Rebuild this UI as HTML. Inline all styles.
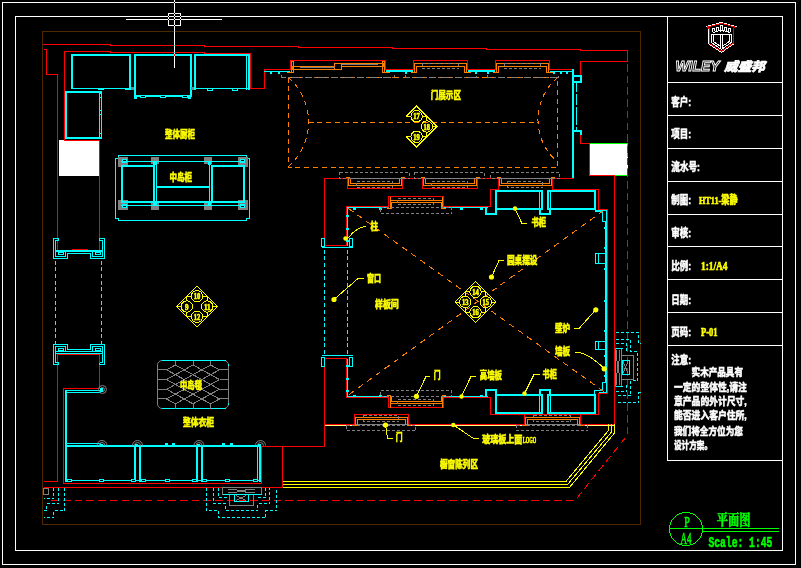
<!DOCTYPE html>
<html><head><meta charset="utf-8"><title>平面图</title>
<style>
html,body{margin:0;padding:0;background:#000;overflow:hidden}
svg{display:block}
text{font-family:"Liberation Sans","Noto Sans CJK SC",sans-serif}
.ser{font-family:"Liberation Serif","Noto Serif CJK SC",serif}
.mix{font-family:"Liberation Serif","Noto Sans CJK SC",sans-serif}
.mono{font-family:"Liberation Mono","Noto Sans CJK SC",monospace}
</style></head><body>
<svg width="801" height="568" viewBox="0 0 801 568" shape-rendering="crispEdges">
<rect x="0" y="0" width="801" height="568" fill="#000"/>
<defs><filter id="nf" x="0" y="0" width="801" height="568" filterUnits="userSpaceOnUse"><feOffset dx="0" dy="0"/></filter></defs>
<g filter="url(#nf)">
<rect x="2.5" y="2.5" width="793" height="562" stroke="#fff" stroke-width="1" fill="none"/>
<rect x="15.5" y="16.5" width="767" height="534" stroke="#fff" stroke-width="1" fill="none"/>
<path d="M667.5 16.5 L667.5 460.5" stroke="#fff" stroke-width="1" fill="none" />
<path d="M667.5 82.5 L782.5 82.5" stroke="#fff" stroke-width="1" fill="none" />
<path d="M667.5 115.5 L782.5 115.5" stroke="#fff" stroke-width="1" fill="none" />
<path d="M667.5 148.5 L782.5 148.5" stroke="#fff" stroke-width="1" fill="none" />
<path d="M667.5 181.5 L782.5 181.5" stroke="#fff" stroke-width="1" fill="none" />
<path d="M667.5 214.5 L782.5 214.5" stroke="#fff" stroke-width="1" fill="none" />
<path d="M667.5 246.5 L782.5 246.5" stroke="#fff" stroke-width="1" fill="none" />
<path d="M667.5 279.5 L782.5 279.5" stroke="#fff" stroke-width="1" fill="none" />
<path d="M667.5 312.5 L782.5 312.5" stroke="#fff" stroke-width="1" fill="none" />
<path d="M667.5 345.5 L782.5 345.5" stroke="#fff" stroke-width="1" fill="none" />
<path d="M667.5 460.5 L782.5 460.5" stroke="#fff" stroke-width="1" fill="none" />
<rect x="42.5" y="31.5" width="598" height="493" stroke="#4f2800" stroke-width="1" fill="none"/>
<path d="M42.5 44.5 L110.5 44.5 L110.5 45.5 L204.5 45.5 L204.5 46.5 L298.5 46.5 L298.5 47.5 L392.5 47.5 L392.5 48.5 L486.5 48.5 L486.5 49.5 L580.5 49.5 L580.5 50.5 L627.5 50.5 L627.5 50.5 L627.5 61.5 L580.5 61.5 L580.5 78.5" stroke="#f00" stroke-width="1" fill="none" />
<path d="M64.5 140.5 L64.5 51.5 L110.5 51.5 L110.5 52.5 L204.5 52.5 L204.5 53.5 L250.5 53.5 L250.5 88.5 L264.5 88.5 L264.5 69.5 L290.5 69.5 L290.5 60.5 L385.5 60.5 L385.5 69.5 L413.5 69.5 L413.5 60.5 L467.5 60.5 L467.5 69.5 L495.5 69.5 L495.5 60.5 L549.5 60.5 L549.5 69.5 L572.5 69.5" stroke="#f00" stroke-width="1" fill="none" />
<path d="M43.5 49.5 L46.5 49.5 L46.5 74.5 L57.5 74.5 L57.5 249.5" stroke="#f00" stroke-width="1" fill="none" />
<path d="M64.5 140.5 L99.5 140.5 L99.5 249.5" stroke="#f00" stroke-width="1" fill="none" />
<path d="M71.5 249.5 L87.5 249.5" stroke="#f00" stroke-width="1" fill="none" />
<path d="M43.5 481.5 L57.5 481.5 L57.5 354.5 L99.5 354.5 L99.5 388.5 L63.5 388.5 L63.5 483.5 L261.5 483.5 L261.5 446.5 L324.5 446.5 L324.5 358.5 L346.5 358.5 L346.5 397.5 L388.5 397.5 L388.5 407.5 L443.5 407.5 L443.5 397.5 L490.5 397.5 L490.5 414.5 L598.5 414.5 L598.5 393.5 L607.5 393.5 L607.5 209.5 L598.5 209.5 L598.5 189.5 L552.5 189.5 L552.5 178.5 L573.5 178.5" stroke="#f00" stroke-width="1" fill="none" />
<path d="M43.5 487.5 L282.5 487.5 L282.5 446.5" stroke="#f00" stroke-width="1" fill="none" />
<path d="M324.5 178.5 L347.5 178.5 L347.5 188.5 L402.5 188.5 L402.5 178.5 L422.5 178.5 L422.5 188.5 L477.5 188.5 L477.5 178.5 L498.5 178.5 L498.5 189.5 L490.5 189.5 L490.5 206.5 L443.5 206.5 L443.5 196.5 L388.5 196.5 L388.5 206.5 L346.5 206.5 L346.5 245.5 L324.5 245.5 Z" stroke="#f00" stroke-width="1" fill="none" />
<path d="M324.5 425.5 L354.5 425.5" stroke="#ffff80" stroke-width="1" fill="none" />
<path d="M408.5 425.5 L524.5 425.5" stroke="#ffff80" stroke-width="1" fill="none" />
<path d="M580.5 425.5 L614.5 425.5" stroke="#ffff80" stroke-width="1" fill="none" />
<path d="M324.5 424.5 L354.5 424.5 L354.5 414.5 L408.5 414.5 L408.5 424.5 L524.5 424.5 L524.5 414.5" stroke="#f00" stroke-width="1" fill="none" />
<path d="M580.5 414.5 L580.5 424.5 L614.5 424.5 L614.5 175.5" stroke="#f00" stroke-width="1" fill="none" />
<path d="M580.5 134.5 L580.5 143.5 L589.5 143.5" stroke="#f00" stroke-width="1" fill="none" />
<rect x="59" y="140" width="40" height="36" fill="#fff"/>
<rect x="590" y="143" width="38" height="33" fill="#fff"/>
<rect x="64" y="140" width="36" height="1" fill="#f00"/>
<rect x="99" y="140" width="1" height="36" fill="#f00"/>
<path d="M589.5 143.5 L589.5 175.5 L614.5 175.5" stroke="#f00" stroke-width="1" fill="none" />
<path d="M589.5 143.5 L627.5 143.5" stroke="#0f0" stroke-width="1" fill="none" />
<path d="M627.5 143.5 L627.5 175.5" stroke="#0f0" stroke-width="1" fill="none" stroke-dasharray="5 3" />
<path d="M614.5 175.5 L627.5 175.5" stroke="#0f0" stroke-width="1" fill="none" />
<rect x="174" y="0" width="1" height="68" fill="#fff"/>
<rect x="126" y="19" width="96" height="1" fill="#fff"/>
<rect x="168.5" y="13.5" width="12" height="12" stroke="#fff" stroke-width="1" fill="none"/>
<rect x="174" y="2" width="1" height="1" fill="#000"/>
<rect x="174" y="13" width="1" height="1" fill="#000"/>
<rect x="168" y="16" width="1" height="1" fill="#000"/>
<rect x="174" y="16" width="1" height="1" fill="#000"/>
<rect x="180" y="16" width="1" height="1" fill="#000"/>
<rect x="168" y="19" width="1" height="1" fill="#000"/>
<rect x="174" y="19" width="1" height="1" fill="#000"/>
<rect x="180" y="19" width="1" height="1" fill="#000"/>
<rect x="174" y="25" width="1" height="1" fill="#000"/>
<rect x="174" y="31" width="1" height="1" fill="#b0d7ff"/>
<rect x="174" y="45" width="1" height="1" fill="#0ff"/>
<rect x="174" y="52" width="1" height="1" fill="#0ff"/>
<path d="M627.5 64 L627.5 435 L575 500.5 L47.5 500.5" stroke="#f00" stroke-width="1" fill="none" stroke-dasharray="7.5 4.2" />
<rect x="71" y="54" width="2" height="35" fill="#0ff"/>
<rect x="71" y="54" width="60" height="2" fill="#0ff"/>
<rect x="129" y="54" width="2" height="35" fill="#0ff"/>
<rect x="71" y="88" width="60" height="1" fill="#0ff"/>
<rect x="134" y="54" width="2" height="43" fill="#0ff"/>
<rect x="134" y="54" width="58" height="2" fill="#0ff"/>
<rect x="190" y="54" width="2" height="43" fill="#0ff"/>
<rect x="134" y="95" width="58" height="1" fill="#0ff"/>
<rect x="136" y="96" width="54" height="1" fill="#0ff"/>
<rect x="194" y="54" width="2" height="36" fill="#0ff"/>
<rect x="194" y="54" width="56" height="2" fill="#0ff"/>
<rect x="246" y="54" width="1" height="36" fill="#0ff"/>
<rect x="248" y="54" width="2" height="36" fill="#0ff"/>
<rect x="194" y="88" width="56" height="1" fill="#0ff"/>
<rect x="65" y="91" width="2" height="48" fill="#0ff"/>
<rect x="65" y="91" width="36" height="2" fill="#0ff"/>
<rect x="65" y="137" width="36" height="2" fill="#0ff"/>
<rect x="99" y="91" width="1" height="48" fill="#0ff"/>
<rect x="101" y="91" width="1" height="48" fill="#0ff"/>
<rect x="99" y="93" width="3" height="5" fill="#0ff"/>
<rect x="100" y="94" width="1" height="3" fill="#000"/>
<rect x="99" y="110" width="3" height="5" fill="#0ff"/>
<rect x="100" y="111" width="1" height="3" fill="#000"/>
<rect x="99" y="133" width="3" height="5" fill="#0ff"/>
<rect x="100" y="134" width="1" height="3" fill="#000"/>
<rect x="98" y="88" width="6" height="2" fill="#0ff"/>
<rect x="125" y="88" width="6" height="2" fill="#0ff"/>
<rect x="160" y="95" width="6" height="3" fill="#0ff"/>
<rect x="161" y="96" width="4" height="1" fill="#000"/>
<rect x="140" y="95" width="6" height="3" fill="#0ff"/>
<rect x="141" y="96" width="4" height="1" fill="#000"/>
<rect x="182" y="95" width="6" height="3" fill="#0ff"/>
<rect x="183" y="96" width="4" height="1" fill="#000"/>
<rect x="207" y="88" width="6" height="3" fill="#0ff"/>
<rect x="208" y="89" width="4" height="1" fill="#000"/>
<rect x="232" y="88" width="6" height="3" fill="#0ff"/>
<rect x="233" y="89" width="4" height="1" fill="#000"/>
<rect x="131" y="87" width="3" height="3" fill="#808080"/>
<rect x="191" y="87" width="3" height="3" fill="#808080"/>
<rect x="134" y="96" width="3" height="3" fill="#0ff"/>
<rect x="188" y="96" width="3" height="3" fill="#0ff"/>
<path d="M115.5 158.5 L118.5 158.5 L118.5 155.5 L246.5 155.5 L246.5 158.5 L249.5 158.5 L249.5 218.5 L246.5 218.5 L246.5 220.5 L118.5 220.5 L118.5 218.5 L115.5 218.5 Z" stroke="#0ff" stroke-width="1" fill="none" />
<rect x="151" y="157" width="8" height="7" fill="#808080"/>
<rect x="151" y="203" width="8" height="7" fill="#808080"/>
<rect x="204" y="157" width="8" height="7" fill="#808080"/>
<rect x="204" y="203" width="8" height="7" fill="#808080"/>
<rect x="118" y="157" width="10" height="10" fill="#808080"/>
<rect x="118" y="200" width="10" height="10" fill="#808080"/>
<rect x="238" y="157" width="10" height="10" fill="#808080"/>
<rect x="238" y="200" width="10" height="10" fill="#808080"/>
<rect x="122" y="159" width="5" height="4" fill="#0ff"/>
<rect x="123" y="160" width="3" height="2" fill="#000"/>
<rect x="240" y="159" width="5" height="4" fill="#0ff"/>
<rect x="241" y="160" width="3" height="2" fill="#000"/>
<rect x="122" y="204" width="5" height="4" fill="#0ff"/>
<rect x="123" y="205" width="3" height="2" fill="#000"/>
<rect x="240" y="204" width="5" height="4" fill="#0ff"/>
<rect x="241" y="205" width="3" height="2" fill="#000"/>
<rect x="121" y="161" width="124" height="1" fill="#0ff"/>
<rect x="122" y="166" width="32" height="36" stroke="#0ff" stroke-width="2" fill="none"/>
<rect x="212" y="166" width="32" height="36" stroke="#0ff" stroke-width="2" fill="none"/>
<rect x="156" y="161" width="1" height="44" fill="#0ff"/>
<rect x="209" y="161" width="1" height="44" fill="#0ff"/>
<rect x="155" y="201" width="56" height="2" fill="#0ff"/>
<rect x="157" y="186" width="52" height="2" fill="#0ff"/>
<rect x="121" y="205" width="124" height="1" fill="#0ff"/>
<rect x="153" y="162" width="3" height="3" fill="#0ff"/>
<rect x="153" y="203" width="3" height="3" fill="#0ff"/>
<rect x="208" y="162" width="3" height="3" fill="#0ff"/>
<rect x="208" y="203" width="3" height="3" fill="#0ff"/>
<path d="M58.5 240.5 L58.5 238.5 L53.5 238.5 L53.5 258.5 L67.5 258.5 L67.5 253.5 L90.5 253.5 L90.5 258.5 L104.5 258.5 L104.5 238.5 L99.5 238.5 L99.5 240.5" stroke="#0ff" stroke-width="1" fill="none" />
<path d="M58.5 240.5 L55.5 240.5 L55.5 250.5 L102.5 250.5 L102.5 240.5 L99.5 240.5" stroke="#0ff" stroke-width="1" fill="none" />
<path d="M55.5 251.5 L102.5 251.5" stroke="#0ff" stroke-width="1" fill="none" />
<path d="M55.5 250.5 L55.5 256.5 L65.5 256.5 L65.5 251.5" stroke="#0ff" stroke-width="1" fill="none" />
<path d="M102.5 250.5 L102.5 256.5 L92.5 256.5 L92.5 251.5" stroke="#0ff" stroke-width="1" fill="none" />
<path d="M58.5 252.5 L63.5 252.5 L63.5 254.5 L58.5 254.5 Z" stroke="#0ff" stroke-width="1" fill="none" />
<path d="M95.5 252.5 L100.5 252.5 L100.5 254.5 L95.5 254.5 Z" stroke="#0ff" stroke-width="1" fill="none" />
<path d="M58.5 362.5 L58.5 364.5 L53.5 364.5 L53.5 344.5 L67.5 344.5 L67.5 349.5 L90.5 349.5 L90.5 344.5 L104.5 344.5 L104.5 364.5 L99.5 364.5 L99.5 362.5" stroke="#0ff" stroke-width="1" fill="none" />
<path d="M58.5 362.5 L55.5 362.5 L55.5 353.5 L102.5 353.5 L102.5 362.5 L99.5 362.5" stroke="#0ff" stroke-width="1" fill="none" />
<path d="M55.5 351.5 L102.5 351.5" stroke="#0ff" stroke-width="1" fill="none" />
<path d="M55.5 353.5 L55.5 346.5 L65.5 346.5 L65.5 351.5" stroke="#0ff" stroke-width="1" fill="none" />
<path d="M102.5 353.5 L102.5 346.5 L92.5 346.5 L92.5 351.5" stroke="#0ff" stroke-width="1" fill="none" />
<path d="M58.5 350.5 L63.5 350.5 L63.5 348.5 L58.5 348.5 Z" stroke="#0ff" stroke-width="1" fill="none" />
<path d="M95.5 350.5 L100.5 350.5 L100.5 348.5 L95.5 348.5 Z" stroke="#0ff" stroke-width="1" fill="none" />
<path d="M55.5 260.5 L55.5 343.5" stroke="#0ff" stroke-width="1" fill="none" stroke-dasharray="4 2.7" />
<path d="M101.5 260.5 L101.5 343.5" stroke="#0ff" stroke-width="1" fill="none" stroke-dasharray="4 2.7" />
<rect x="321.5" y="238.5" width="3" height="8" stroke="#0ff" stroke-width="1" fill="none"/>
<rect x="349.5" y="238.5" width="3" height="8" stroke="#0ff" stroke-width="1" fill="none"/>
<path d="M321.5 247.5 L352.5 247.5" stroke="#0ff" stroke-width="1" fill="none" />
<rect x="321.5" y="357.5" width="3" height="9" stroke="#0ff" stroke-width="1" fill="none"/>
<rect x="349.5" y="357.5" width="3" height="9" stroke="#0ff" stroke-width="1" fill="none"/>
<path d="M321.5 355.5 L352.5 355.5" stroke="#0ff" stroke-width="1" fill="none" />
<path d="M324.5 249.5 L324.5 354.5" stroke="#0ff" stroke-width="1" fill="none" stroke-dasharray="4 2.7" />
<path d="M347.5 249.5 L347.5 354.5" stroke="#0ff" stroke-width="1" fill="none" stroke-dasharray="4 2.7" />
<path d="M347.5 245.5 L347.5 207.5 L388.5 207.5" stroke="#0ff" stroke-width="1" fill="none" />
<path d="M347.5 358.5 L347.5 396.5 L388.5 396.5" stroke="#0ff" stroke-width="1" fill="none" />
<path d="M443.5 207.5 L487.5 207.5" stroke="#0ff" stroke-width="1" fill="none" />
<path d="M443.5 396.5 L487.5 396.5" stroke="#0ff" stroke-width="1" fill="none" />
<rect x="353" y="208" width="3" height="2" fill="#0ff"/>
<rect x="379" y="208" width="3" height="2" fill="#0ff"/>
<rect x="460" y="208" width="3" height="2" fill="#0ff"/>
<rect x="480" y="208" width="3" height="2" fill="#0ff"/>
<rect x="353" y="395" width="3" height="2" fill="#0ff"/>
<rect x="379" y="395" width="3" height="2" fill="#0ff"/>
<rect x="460" y="395" width="3" height="2" fill="#0ff"/>
<rect x="480" y="395" width="3" height="2" fill="#0ff"/>
<rect x="346" y="215" width="3" height="2" fill="#0ff"/>
<rect x="346" y="228" width="3" height="2" fill="#0ff"/>
<rect x="346" y="240" width="3" height="2" fill="#0ff"/>
<rect x="346" y="365" width="3" height="2" fill="#0ff"/>
<rect x="346" y="378" width="3" height="2" fill="#0ff"/>
<rect x="346" y="390" width="3" height="2" fill="#0ff"/>
<rect x="496" y="191" width="46" height="18" stroke="#0ff" stroke-width="2" fill="none"/>
<rect x="548" y="191" width="47" height="18" stroke="#0ff" stroke-width="2" fill="none"/>
<rect x="539" y="190" width="1" height="20" fill="#0ff"/>
<rect x="550" y="190" width="1" height="20" fill="#0ff"/>
<path d="M486 208 L486 214 L496 214 L496 208" stroke="#0ff" stroke-width="2" fill="none" />
<path d="M540 208 L540 214 L550 214 L550 208" stroke="#0ff" stroke-width="2" fill="none" />
<rect x="496" y="395" width="46" height="18" stroke="#0ff" stroke-width="2" fill="none"/>
<rect x="548" y="395" width="47" height="18" stroke="#0ff" stroke-width="2" fill="none"/>
<rect x="539" y="394" width="1" height="20" fill="#0ff"/>
<rect x="550" y="394" width="1" height="20" fill="#0ff"/>
<path d="M486 396 L486 390 L496 390 L496 396" stroke="#0ff" stroke-width="2" fill="none" />
<path d="M540 396 L540 390 L550 390 L550 396" stroke="#0ff" stroke-width="2" fill="none" />
<rect x="572" y="69" width="2" height="109" fill="#0ff"/>
<path d="M572.5 75.5 L581.5 75.5 L581.5 82.5 L574.5 82.5" stroke="#0ff" stroke-width="1" fill="none" />
<rect x="572" y="75" width="10" height="2" fill="#0ff"/>
<rect x="580" y="75" width="2" height="8" fill="#0ff"/>
<rect x="574" y="81" width="8" height="2" fill="#0ff"/>
<rect x="576" y="83" width="1" height="47" fill="#0ff"/>
<rect x="572" y="130" width="10" height="2" fill="#0ff"/>
<rect x="580" y="130" width="2" height="5" fill="#0ff"/>
<rect x="550" y="71" width="22" height="1" fill="#0ff"/>
<rect x="553" y="72" width="2" height="2" fill="#0ff"/>
<rect x="560" y="72" width="2" height="2" fill="#0ff"/>
<rect x="566" y="72" width="2" height="2" fill="#0ff"/>
<rect x="574" y="92" width="3" height="2" fill="#000"/>
<rect x="574" y="105" width="3" height="2" fill="#000"/>
<rect x="574" y="125" width="3" height="2" fill="#000"/>
<rect x="264" y="71" width="26" height="1" fill="#0ff"/>
<rect x="386" y="70" width="27" height="2" fill="#0ff"/>
<rect x="468" y="70" width="27" height="2" fill="#0ff"/>
<rect x="270" y="72" width="2" height="2" fill="#0ff"/>
<rect x="278" y="72" width="2" height="2" fill="#0ff"/>
<rect x="405" y="72" width="2" height="2" fill="#0ff"/>
<rect x="475" y="72" width="2" height="2" fill="#0ff"/>
<rect x="487" y="72" width="2" height="2" fill="#0ff"/>
<path d="M594.5 211.5 L602.5 211.5 L602.5 221.5 L605.5 221.5 L605.5 382.5 L602.5 382.5 L602.5 390.5 L594.5 390.5 L594.5 394.5" stroke="#0ff" stroke-width="1" fill="none" />
<path d="M594.5 210.5 L606.5 210.5 L606.5 392.5 L598.5 392.5" stroke="#0ff" stroke-width="1" fill="none" />
<rect x="604" y="227" width="1" height="2" fill="#0ff"/>
<rect x="604" y="247" width="1" height="2" fill="#0ff"/>
<rect x="604" y="268" width="1" height="2" fill="#0ff"/>
<rect x="604" y="300" width="1" height="2" fill="#0ff"/>
<rect x="604" y="330" width="1" height="2" fill="#0ff"/>
<rect x="604" y="355" width="1" height="2" fill="#0ff"/>
<rect x="604" y="375" width="1" height="2" fill="#0ff"/>
<rect x="595.5" y="253.5" width="11" height="10" stroke="#0ff" stroke-width="1" fill="none"/>
<rect x="598" y="253" width="1" height="10" fill="#0ff"/>
<rect x="595.5" y="341.5" width="11" height="8" stroke="#0ff" stroke-width="1" fill="none"/>
<rect x="598" y="341" width="1" height="8" fill="#0ff"/>
<rect x="174" y="54" width="1" height="2" fill="#f00"/>
<rect x="65" y="390" width="2" height="92" fill="#0ff"/>
<rect x="65" y="390" width="36" height="1" fill="#0ff"/>
<rect x="67" y="392" width="34" height="1" fill="#0ff"/>
<rect x="65" y="443" width="36" height="1" fill="#0ff"/>
<rect x="65" y="445" width="36" height="2" fill="#0ff"/>
<rect x="101" y="445" width="160" height="2" fill="#0ff"/>
<rect x="65" y="480" width="196" height="1" fill="#0ff"/>
<rect x="134" y="445" width="2" height="37" fill="#0ff"/>
<rect x="139" y="445" width="2" height="37" fill="#0ff"/>
<rect x="196" y="445" width="2" height="37" fill="#0ff"/>
<rect x="201" y="445" width="2" height="37" fill="#0ff"/>
<rect x="257" y="445" width="1" height="37" fill="#0ff"/>
<rect x="259" y="445" width="2" height="37" fill="#0ff"/>
<rect x="67" y="479" width="5" height="3" fill="#0ff"/>
<rect x="68" y="480" width="3" height="1" fill="#000"/>
<rect x="99" y="479" width="5" height="3" fill="#0ff"/>
<rect x="100" y="480" width="3" height="1" fill="#000"/>
<rect x="131" y="479" width="5" height="3" fill="#0ff"/>
<rect x="132" y="480" width="3" height="1" fill="#000"/>
<rect x="141" y="479" width="5" height="3" fill="#0ff"/>
<rect x="142" y="480" width="3" height="1" fill="#000"/>
<rect x="165" y="479" width="5" height="3" fill="#0ff"/>
<rect x="166" y="480" width="3" height="1" fill="#000"/>
<rect x="192" y="479" width="5" height="3" fill="#0ff"/>
<rect x="193" y="480" width="3" height="1" fill="#000"/>
<rect x="202" y="479" width="5" height="3" fill="#0ff"/>
<rect x="203" y="480" width="3" height="1" fill="#000"/>
<rect x="225" y="479" width="5" height="3" fill="#0ff"/>
<rect x="226" y="480" width="3" height="1" fill="#000"/>
<rect x="253" y="479" width="5" height="3" fill="#0ff"/>
<rect x="254" y="480" width="3" height="1" fill="#000"/>
<g shape-rendering="auto" fill="none" stroke="#808080">
<path d="M97 445.5 a5 5 0 0 1 10 0" />
<path d="M99 445.5 a3 3 0 0 1 6 0" />
<path d="M132.5 445.5 a5 5 0 0 1 10 0" />
<path d="M134.5 445.5 a3 3 0 0 1 6 0" />
<path d="M194 445.5 a5 5 0 0 1 10 0" />
<path d="M196 445.5 a3 3 0 0 1 6 0" />
<path d="M255.5 445.5 a5 5 0 0 1 10 0" />
<path d="M257.5 445.5 a3 3 0 0 1 6 0" />
<circle cx="102.5" cy="389.5" r="4"/><circle cx="102.5" cy="389.5" r="2"/>
</g>
<rect x="100" y="444" width="3" height="3" fill="#0ff"/>
<rect x="135" y="444" width="3" height="3" fill="#0ff"/>
<rect x="197" y="444" width="3" height="3" fill="#0ff"/>
<rect x="258" y="444" width="3" height="3" fill="#0ff"/>
<rect x="100" y="388" width="3" height="4" fill="#0ff"/>
<rect x="165" y="443" width="3" height="2" fill="#0ff"/>
<rect x="172" y="443" width="3" height="2" fill="#0ff"/>
<rect x="222" y="443" width="3" height="2" fill="#0ff"/>
<rect x="230" y="443" width="3" height="2" fill="#0ff"/>
<rect x="43.5" y="488.5" width="5" height="6" stroke="#808080" stroke-width="1" fill="none"/>
<path d="M53.5 487.5 L53.5 498.5 L43.5 498.5" stroke="#0ff" stroke-width="1" fill="none" stroke-dasharray="3 2" />
<path d="M58.5 487.5 L58.5 503.5 L46.5 503.5 L46.5 510.5 L43.5 510.5" stroke="#0ff" stroke-width="1" fill="none" stroke-dasharray="3 2" />
<path d="M64.5 487.5 L64.5 510.5 L53.5 510.5 L53.5 517.5 L43.5 517.5" stroke="#0ff" stroke-width="1" fill="none" stroke-dasharray="3 2" />
<path d="M206.5 487.5 L206.5 510.5 L218.5 510.5 L218.5 517.5 L265.5 517.5 L265.5 510.5 L276.5 510.5 L276.5 487.5" stroke="#0ff" stroke-width="1" fill="none" stroke-dasharray="3 2" />
<path d="M213.5 487.5 L213.5 503.5 L225.5 503.5 L225.5 510.5 L257.5 510.5 L257.5 503.5 L269.5 503.5 L269.5 487.5" stroke="#0ff" stroke-width="1" fill="none" stroke-dasharray="3 2" />
<path d="M218.5 487.5 L218.5 497.5 L228.5 497.5" stroke="#0ff" stroke-width="1" fill="none" stroke-dasharray="3 2" />
<path d="M265.5 487.5 L265.5 497.5 L255.5 497.5" stroke="#0ff" stroke-width="1" fill="none" stroke-dasharray="3 2" />
<rect x="222.5" y="487.5" width="39" height="7" stroke="#808080" stroke-width="1" fill="none"/>
<path d="M222.5 494.5 L261.5 494.5" stroke="#0ff" stroke-width="1" fill="none" />
<path d="M229.5 494.5 L229.5 505.5 L253.5 505.5 L253.5 494.5" stroke="#808080" stroke-width="1" fill="none" />
<rect x="234.5" y="494.5" width="14" height="7" stroke="#0ff" stroke-width="1" fill="none"/>
<path d="M236 495.5 L246 500.5" stroke="#808080" stroke-width="1" fill="none" />
<path d="M246 495.5 L236 500.5" stroke="#808080" stroke-width="1" fill="none" />
<path d="M228 489.5 L236 489.5 L241 491.5 L247 489.5 L255 489.5" stroke="#808080" stroke-width="1" fill="none" />
<path d="M228 492.5 L236 492.5 L241 490.5 L247 492.5 L255 492.5" stroke="#808080" stroke-width="1" fill="none" />
<path d="M615.5 332.5 L638.5 332.5 L638.5 343.5 L640.5 343.5" stroke="#0ff" stroke-width="1" fill="none" stroke-dasharray="3 2" />
<path d="M640.5 392.5 L638.5 392.5 L638.5 402.5 L615.5 402.5" stroke="#0ff" stroke-width="1" fill="none" stroke-dasharray="3 2" />
<path d="M615.5 339.5 L630.5 339.5 L630.5 351.5 L637.5 351.5 L637.5 380.5 L630.5 380.5 L630.5 395.5 L615.5 395.5" stroke="#0ff" stroke-width="1" fill="none" stroke-dasharray="3 2" />
<path d="M615.5 343.5 L626.5 343.5 L626.5 351.5" stroke="#0ff" stroke-width="1" fill="none" stroke-dasharray="3 2" />
<path d="M626.5 384.5 L626.5 391.5 L615.5 391.5" stroke="#0ff" stroke-width="1" fill="none" stroke-dasharray="3 2" />
<rect x="615.5" y="348.5" width="6" height="38" stroke="#808080" stroke-width="1" fill="none"/>
<path d="M615.5 348.5 L622.5 348.5" stroke="#0ff" stroke-width="1" fill="none" />
<path d="M615.5 386.5 L622.5 386.5" stroke="#0ff" stroke-width="1" fill="none" />
<path d="M621.5 355.5 L633.5 355.5 L633.5 379.5 L621.5 379.5" stroke="#808080" stroke-width="1" fill="none" />
<rect x="622.5" y="360.5" width="7" height="14" stroke="#0ff" stroke-width="1" fill="none"/>
<path d="M623 361.5 L628 373" stroke="#808080" stroke-width="1" fill="none" />
<path d="M628 361.5 L623 373" stroke="#808080" stroke-width="1" fill="none" />
<path d="M616.5 350 L616.5 358 L618 367 L616.5 376 L616.5 385" stroke="#808080" stroke-width="1" fill="none" />
<path d="M619.5 350 L619.5 358 L618 367 L619.5 376 L619.5 385" stroke="#808080" stroke-width="1" fill="none" />
<rect x="157.5" y="360.5" width="71" height="48" rx="4.5" ry="4.5" fill="none" stroke="#808080" shape-rendering="auto"/>
<path d="M161.5 360.5 L225.5 360.5" stroke="#0ff" stroke-width="1" fill="none" />
<path d="M161.5 408.5 L225.5 408.5" stroke="#0ff" stroke-width="1" fill="none" />
<rect x="228" y="364" width="1" height="2" fill="#0ff"/>
<rect x="228" y="403" width="1" height="2" fill="#0ff"/>
<g stroke="#808080" fill="none">
<path d="M166.6 369.8 L219.4 398.99"/>
<path d="M166.6 379.53 L210.6 403.86"/>
<path d="M166.6 389.26 L193 403.86"/>
<path d="M166.6 399 L175.4 403.86"/>
<path d="M175.4 364.94 L219.4 389.26"/>
<path d="M193 364.94 L219.4 379.54"/>
<path d="M210.6 364.94 L219.4 369.81"/>
<path d="M219.4 369.8 L166.6 398.99"/>
<path d="M219.4 379.53 L175.4 403.86"/>
<path d="M219.4 389.26 L193 403.86"/>
<path d="M219.4 399 L210.6 403.86"/>
<path d="M175.4 364.94 L166.6 369.81"/>
<path d="M193 364.94 L166.6 379.54"/>
<path d="M210.6 364.94 L166.6 389.26"/>
</g>
<path d="M175.5 360.5 L175.5 364.5" stroke="#808080" stroke-width="1" fill="none" />
<path d="M175.5 403.5 L175.5 408.5" stroke="#808080" stroke-width="1" fill="none" />
<path d="M193.5 360.5 L193.5 364.5" stroke="#808080" stroke-width="1" fill="none" />
<path d="M193.5 403.5 L193.5 408.5" stroke="#808080" stroke-width="1" fill="none" />
<path d="M210.5 360.5 L210.5 364.5" stroke="#808080" stroke-width="1" fill="none" />
<path d="M210.5 403.5 L210.5 408.5" stroke="#808080" stroke-width="1" fill="none" />
<path d="M157.5 369.5 L166.5 369.5" stroke="#808080" stroke-width="1" fill="none" />
<path d="M219.5 369.5 L228.5 369.5" stroke="#808080" stroke-width="1" fill="none" />
<path d="M157.5 379.5 L166.5 379.5" stroke="#808080" stroke-width="1" fill="none" />
<path d="M219.5 379.5 L228.5 379.5" stroke="#808080" stroke-width="1" fill="none" />
<path d="M157.5 389.5 L166.5 389.5" stroke="#808080" stroke-width="1" fill="none" />
<path d="M219.5 389.5 L228.5 389.5" stroke="#808080" stroke-width="1" fill="none" />
<path d="M157.5 398.5 L166.5 398.5" stroke="#808080" stroke-width="1" fill="none" />
<path d="M219.5 398.5 L228.5 398.5" stroke="#808080" stroke-width="1" fill="none" />
<path d="M286.5 72.5 L293.5 72.5" stroke="#ff7f00" stroke-width="1" fill="none" />
<path d="M382.5 72.5 L389.5 72.5" stroke="#ff7f00" stroke-width="1" fill="none" />
<rect x="291.5" y="61.5" width="2" height="11" stroke="#ff7f00" stroke-width="1" fill="none"/>
<rect x="382.5" y="61.5" width="2" height="11" stroke="#ff7f00" stroke-width="1" fill="none"/>
<rect x="292.5" y="66.5" width="42" height="3" stroke="#ff7f00" stroke-width="1" fill="none"/>
<rect x="341.5" y="63.5" width="42" height="3" stroke="#ff7f00" stroke-width="1" fill="none"/>
<rect x="334.5" y="63.5" width="7" height="6" stroke="#ff7f00" stroke-width="1" fill="none"/>
<path d="M299.5 67.5 L334.5 67.5" stroke="#808080" stroke-width="1" fill="none" />
<path d="M341.5 64.5 L377.5 64.5" stroke="#808080" stroke-width="1" fill="none" />
<path d="M410.5 72.5 L414.5 72.5 L414.5 63.5 L466.5 63.5 L466.5 72.5 L470.5 72.5" stroke="#ff7f00" stroke-width="1" fill="none" />
<path d="M414.5 72.5 L416.5 72.5 L416.5 66.5 L464.5 66.5 L464.5 72.5 L466.5 72.5" stroke="#ff7f00" stroke-width="1" fill="none" />
<rect x="422.5" y="63.5" width="36" height="5" stroke="#808080" stroke-width="1" fill="none" stroke-dasharray="3 2"/>
<path d="M492.5 72.5 L496.5 72.5 L496.5 63.5 L548.5 63.5 L548.5 72.5 L552.5 72.5" stroke="#ff7f00" stroke-width="1" fill="none" />
<path d="M496.5 72.5 L498.5 72.5 L498.5 66.5 L546.5 66.5 L546.5 72.5 L548.5 72.5" stroke="#ff7f00" stroke-width="1" fill="none" />
<rect x="504.5" y="63.5" width="36" height="5" stroke="#808080" stroke-width="1" fill="none" stroke-dasharray="3 2"/>
<path d="M288.5 77.5 L288.5 167.5 L557.5 167.5 L557.5 77.5 L288.5 77.5" stroke="#ff7f00" stroke-width="1" fill="none" stroke-dasharray="5 3.8" />
<path d="M308.5 122.5 L538.5 122.5" stroke="#ff7f00" stroke-width="1" fill="none" stroke-dasharray="5 3.8" />
<path d="M288.5 77.5 A59.5 59.5 0 0 1 288.5 166.5" stroke="#ff7f00" fill="none" stroke-dasharray="5 4.5"/>
<path d="M557.5 77.5 A55.5 55.5 0 0 0 557.5 162" stroke="#ff7f00" fill="none" stroke-dasharray="5 4.5"/>
<path d="M281.5 74.5 L281.5 77.5 L394.5 77.5 L394.5 74.5" stroke="#808080" stroke-width="1" fill="none" stroke-dasharray="7 2 2 2" />
<path d="M405.5 74.5 L405.5 77.5 L476.5 77.5 L476.5 74.5" stroke="#808080" stroke-width="1" fill="none" stroke-dasharray="7 2 2 2" />
<path d="M487.5 74.5 L487.5 77.5 L558.5 77.5 L558.5 74.5" stroke="#808080" stroke-width="1" fill="none" stroke-dasharray="7 2 2 2" />
<path d="M348.5 208.5 L605 392.5" stroke="#ff7f00" stroke-width="1" fill="none" stroke-dasharray="6 5" />
<path d="M349 394.5 L603 211" stroke="#ff7f00" stroke-width="1" fill="none" stroke-dasharray="6 5" />
<path d="M347.5 178.5 L402.5 178.5" stroke="#808080" stroke-width="1" fill="none" />
<path d="M348.5 178.5 L348.5 185.5 L401.5 185.5 L401.5 178.5" stroke="#ff7f00" stroke-width="1" fill="none" />
<path d="M350.5 178.5 L350.5 183.5 L399.5 183.5 L399.5 178.5" stroke="#ff7f00" stroke-width="1" fill="none" />
<rect x="356.5" y="181.5" width="36" height="6" stroke="#808080" stroke-width="1" fill="none" stroke-dasharray="3 2"/>
<rect x="339.5" y="172.5" width="70" height="6" stroke="#808080" stroke-width="1" fill="none" stroke-dasharray="3 2"/>
<path d="M345.5 177.5 L349.5 177.5" stroke="#ff7f00" stroke-width="1" fill="none" />
<path d="M400.5 177.5 L404.5 177.5" stroke="#ff7f00" stroke-width="1" fill="none" />
<path d="M422.5 178.5 L477.5 178.5" stroke="#808080" stroke-width="1" fill="none" />
<path d="M423.5 178.5 L423.5 185.5 L476.5 185.5 L476.5 178.5" stroke="#ff7f00" stroke-width="1" fill="none" />
<path d="M425.5 178.5 L425.5 183.5 L474.5 183.5 L474.5 178.5" stroke="#ff7f00" stroke-width="1" fill="none" />
<rect x="431.5" y="181.5" width="36" height="6" stroke="#808080" stroke-width="1" fill="none" stroke-dasharray="3 2"/>
<rect x="414.5" y="172.5" width="70" height="6" stroke="#808080" stroke-width="1" fill="none" stroke-dasharray="3 2"/>
<path d="M420.5 177.5 L424.5 177.5" stroke="#ff7f00" stroke-width="1" fill="none" />
<path d="M475.5 177.5 L479.5 177.5" stroke="#ff7f00" stroke-width="1" fill="none" />
<path d="M498.5 178.5 L552.5 178.5" stroke="#808080" stroke-width="1" fill="none" />
<path d="M499.5 178.5 L499.5 185.5 L551.5 185.5 L551.5 178.5" stroke="#ff7f00" stroke-width="1" fill="none" />
<path d="M501.5 178.5 L501.5 183.5 L549.5 183.5 L549.5 178.5" stroke="#ff7f00" stroke-width="1" fill="none" />
<rect x="507.5" y="181.5" width="35" height="6" stroke="#808080" stroke-width="1" fill="none" stroke-dasharray="3 2"/>
<rect x="490.5" y="172.5" width="69" height="6" stroke="#808080" stroke-width="1" fill="none" stroke-dasharray="3 2"/>
<path d="M496.5 177.5 L500.5 177.5" stroke="#ff7f00" stroke-width="1" fill="none" />
<path d="M550.5 177.5 L554.5 177.5" stroke="#ff7f00" stroke-width="1" fill="none" />
<path d="M354.5 424.5 L408.5 424.5" stroke="#808080" stroke-width="1" fill="none" />
<path d="M355.5 424.5 L355.5 417.5 L407.5 417.5 L407.5 424.5" stroke="#ff7f00" stroke-width="1" fill="none" />
<path d="M357.5 424.5 L357.5 419.5 L405.5 419.5 L405.5 424.5" stroke="#ff7f00" stroke-width="1" fill="none" />
<rect x="363.5" y="415.5" width="35" height="6" stroke="#808080" stroke-width="1" fill="none" stroke-dasharray="3 2"/>
<rect x="346.5" y="425.5" width="69" height="5" stroke="#808080" stroke-width="1" fill="none" stroke-dasharray="3 2"/>
<path d="M352.5 425.5 L356.5 425.5" stroke="#ff7f00" stroke-width="1" fill="none" />
<path d="M406.5 425.5 L410.5 425.5" stroke="#ff7f00" stroke-width="1" fill="none" />
<path d="M524.5 424.5 L580.5 424.5" stroke="#808080" stroke-width="1" fill="none" />
<path d="M525.5 424.5 L525.5 417.5 L579.5 417.5 L579.5 424.5" stroke="#ff7f00" stroke-width="1" fill="none" />
<path d="M527.5 424.5 L527.5 419.5 L577.5 419.5 L577.5 424.5" stroke="#ff7f00" stroke-width="1" fill="none" />
<rect x="533.5" y="415.5" width="37" height="6" stroke="#808080" stroke-width="1" fill="none" stroke-dasharray="3 2"/>
<rect x="516.5" y="425.5" width="71" height="5" stroke="#808080" stroke-width="1" fill="none" stroke-dasharray="3 2"/>
<path d="M522.5 425.5 L526.5 425.5" stroke="#ff7f00" stroke-width="1" fill="none" />
<path d="M578.5 425.5 L582.5 425.5" stroke="#ff7f00" stroke-width="1" fill="none" />
<path d="M386.5 208.5 L390.5 208.5 L390.5 196.5" stroke="#ff7f00" stroke-width="1" fill="none" />
<path d="M445.5 208.5 L442.5 208.5 L442.5 196.5" stroke="#ff7f00" stroke-width="1" fill="none" />
<path d="M390.5 200.5 L442.5 200.5" stroke="#ff7f00" stroke-width="1" fill="none" />
<path d="M391.5 208.5 L391.5 202.5 L441.5 202.5 L441.5 208.5" stroke="#ff7f00" stroke-width="1" fill="none" />
<rect x="397.5" y="198.5" width="36" height="6" stroke="#808080" stroke-width="1" fill="none" stroke-dasharray="3 2"/>
<rect x="380.5" y="207.5" width="71" height="6" stroke="#808080" stroke-width="1" fill="none" stroke-dasharray="3 2"/>
<path d="M386.5 395.5 L390.5 395.5 L390.5 407.5" stroke="#ff7f00" stroke-width="1" fill="none" />
<path d="M445.5 395.5 L442.5 395.5 L442.5 407.5" stroke="#ff7f00" stroke-width="1" fill="none" />
<path d="M390.5 403.5 L442.5 403.5" stroke="#ff7f00" stroke-width="1" fill="none" />
<path d="M391.5 395.5 L391.5 401.5 L441.5 401.5 L441.5 395.5" stroke="#ff7f00" stroke-width="1" fill="none" />
<rect x="397.5" y="399.5" width="36" height="6" stroke="#808080" stroke-width="1" fill="none" stroke-dasharray="3 2"/>
<rect x="380.5" y="390.5" width="71" height="6" stroke="#808080" stroke-width="1" fill="none" stroke-dasharray="3 2"/>
<path d="M282.5 481.5 L566 481.5 L608.5 430.5 L608.5 423.5" stroke="#ff0" stroke-width="1" fill="none" />
<path d="M282.5 484.5 L567.5 484.5 L611.5 432 L611.5 423.5" stroke="#ff0" stroke-width="1" fill="none" />
<path d="M282.5 487.5 L569.5 487.5 L614 433.5 L614 423.5" stroke="#ff0" stroke-width="1" fill="none" />
<path d="M366 226.5 Q357 227 348 238" stroke="#ff0" fill="none"/>
<circle cx="345.5" cy="238.5" r="2.2" fill="#ff0" shape-rendering="auto"/>
<path d="M363.5 278.5 L358 278.5 L334 299.5" stroke="#ff0" stroke-width="1" fill="none" />
<circle cx="334" cy="299.5" r="2.6" fill="#ff0" shape-rendering="auto"/>
<path d="M527 223.5 L522 223.5 L515 208.5" stroke="#ff0" stroke-width="1" fill="none" />
<circle cx="515" cy="208.5" r="2.2" fill="#ff0" shape-rendering="auto"/>
<path d="M504 260.5 L499 260.5 L491.5 277" stroke="#ff0" stroke-width="1" fill="none" />
<circle cx="491.5" cy="277" r="2.6" fill="#ff0" shape-rendering="auto"/>
<path d="M430 376.5 L426 376.5 L416.5 396" stroke="#ff0" stroke-width="1" fill="none" />
<circle cx="416.5" cy="396.3" r="2.6" fill="#ff0" shape-rendering="auto"/>
<path d="M476 376.5 L471 376.5 L461.5 396" stroke="#ff0" stroke-width="1" fill="none" />
<circle cx="461.5" cy="396.5" r="2.2" fill="#ff0" shape-rendering="auto"/>
<path d="M539.5 374.5 L534 374.5 L524.5 393.5" stroke="#ff0" stroke-width="1" fill="none" />
<circle cx="524.5" cy="393.5" r="2.2" fill="#ff0" shape-rendering="auto"/>
<path d="M574 328.5 L579 328.5 L595.5 310" stroke="#ff0" stroke-width="1" fill="none" />
<circle cx="595.8" cy="309.8" r="2.6" fill="#ff0" shape-rendering="auto"/>
<path d="M574.5 352.5 L580 352.5" stroke="#ff0" stroke-width="1" fill="none" />
<path d="M580 352.5 Q592 356 604 368.5" stroke="#ff0" fill="none"/>
<circle cx="604.2" cy="368.8" r="2.6" fill="#ff0" shape-rendering="auto"/>
<path d="M392.5 438.5 L387.5 438.5 L385.5 425" stroke="#ff0" stroke-width="1" fill="none" />
<circle cx="385.5" cy="425" r="2.6" fill="#ff0" shape-rendering="auto"/>
<path d="M478.5 438.5 L473.5 438.5 L453.5 425" stroke="#ff0" stroke-width="1" fill="none" />
<circle cx="453.3" cy="425" r="2.2" fill="#ff0" shape-rendering="auto"/>
<g stroke="#ff0" fill="none">
<path d="M197 286 L217.5 306.5 L197 327 L176.5 306.5 Z"/>
<path d="M186.75 296.5 L191.3 296.5"/>
<path d="M202.7 296.5 L207.25 296.5"/>
<path d="M186.75 316.5 L191.3 316.5"/>
<path d="M202.7 316.5 L207.25 316.5"/>
<path d="M207.5 296.25 L207.5 300.8"/>
<path d="M207.5 312.2 L207.5 316.75"/>
<path d="M212.95 306.5 L217.5 306.5"/>
<path d="M186.5 296.25 L186.5 300.8"/>
<path d="M186.5 312.2 L186.5 316.75"/>
<path d="M176.5 306.5 L181.05 306.5"/>
</g>
<circle cx="197" cy="296.25" r="5.7" stroke="#ff0" fill="none"/>
<text x="197" y="299.25" font-size="8" fill="#ff0" stroke="#ff0" stroke-width="0.6" font-weight="bold" textLength="6.5" lengthAdjust="spacingAndGlyphs" text-anchor="middle" class="ser">10</text>
<circle cx="186.75" cy="306.5" r="5.7" stroke="#ff0" fill="none"/>
<text x="186.75" y="309.5" font-size="8" fill="#ff0" stroke="#ff0" stroke-width="0.6" font-weight="bold" textLength="3.5" lengthAdjust="spacingAndGlyphs" text-anchor="middle" class="ser">9</text>
<circle cx="207.25" cy="306.5" r="5.7" stroke="#ff0" fill="none"/>
<text x="207.25" y="309.5" font-size="8" fill="#ff0" stroke="#ff0" stroke-width="0.6" font-weight="bold" textLength="6.5" lengthAdjust="spacingAndGlyphs" text-anchor="middle" class="ser">11</text>
<circle cx="197" cy="316.75" r="5.7" stroke="#ff0" fill="none"/>
<text x="197" y="319.75" font-size="8" fill="#ff0" stroke="#ff0" stroke-width="0.6" font-weight="bold" textLength="6.5" lengthAdjust="spacingAndGlyphs" text-anchor="middle" class="ser">12</text>
<g stroke="#ff0" fill="none">
<path d="M475.5 281.5 L496 302 L475.5 322.5 L455 302 Z"/>
<path d="M465.25 291.5 L469.8 291.5"/>
<path d="M481.2 291.5 L485.75 291.5"/>
<path d="M465.25 312.5 L469.8 312.5"/>
<path d="M481.2 312.5 L485.75 312.5"/>
<path d="M485.5 291.75 L485.5 296.3"/>
<path d="M485.5 307.7 L485.5 312.25"/>
<path d="M491.45 302.5 L496 302.5"/>
<path d="M465.5 291.75 L465.5 296.3"/>
<path d="M465.5 307.7 L465.5 312.25"/>
<path d="M455 302.5 L459.55 302.5"/>
</g>
<circle cx="475.5" cy="291.75" r="5.7" stroke="#ff0" fill="none"/>
<text x="475.5" y="294.75" font-size="8" fill="#ff0" stroke="#ff0" stroke-width="0.6" font-weight="bold" textLength="6.5" lengthAdjust="spacingAndGlyphs" text-anchor="middle" class="ser">14</text>
<circle cx="465.25" cy="302" r="5.7" stroke="#ff0" fill="none"/>
<text x="465.25" y="305" font-size="8" fill="#ff0" stroke="#ff0" stroke-width="0.6" font-weight="bold" textLength="6.5" lengthAdjust="spacingAndGlyphs" text-anchor="middle" class="ser">13</text>
<circle cx="485.75" cy="302" r="5.7" stroke="#ff0" fill="none"/>
<text x="485.75" y="305" font-size="8" fill="#ff0" stroke="#ff0" stroke-width="0.6" font-weight="bold" textLength="6.5" lengthAdjust="spacingAndGlyphs" text-anchor="middle" class="ser">15</text>
<circle cx="475.5" cy="312.25" r="5.7" stroke="#ff0" fill="none"/>
<text x="475.5" y="315.25" font-size="8" fill="#ff0" stroke="#ff0" stroke-width="0.6" font-weight="bold" textLength="6.5" lengthAdjust="spacingAndGlyphs" text-anchor="middle" class="ser">16</text>
<g stroke="#ff0" fill="none">
<path d="M406.35 116.25 L416.6 106 L437.1 126.5 L416.6 147 L406.35 136.75"/>
<path d="M406.35 116.5 L410.9 116.5"/>
<path d="M422.3 116.5 L426.85 116.5"/>
<path d="M406.35 136.5 L410.9 136.5"/>
<path d="M422.3 136.5 L426.85 136.5"/>
<path d="M426.5 116.25 L426.5 120.8"/>
<path d="M426.5 132.2 L426.5 136.75"/>
<path d="M432.55 126.5 L437.1 126.5"/>
</g>
<circle cx="416.6" cy="116.25" r="5.7" stroke="#ff0" fill="none"/>
<text x="416.6" y="119.25" font-size="8" fill="#ff0" stroke="#ff0" stroke-width="0.6" font-weight="bold" textLength="6.5" lengthAdjust="spacingAndGlyphs" text-anchor="middle" class="ser">17</text>
<circle cx="426.85" cy="126.5" r="5.7" stroke="#ff0" fill="none"/>
<text x="426.85" y="129.5" font-size="8" fill="#ff0" stroke="#ff0" stroke-width="0.6" font-weight="bold" textLength="6.5" lengthAdjust="spacingAndGlyphs" text-anchor="middle" class="ser">18</text>
<circle cx="416.6" cy="136.75" r="5.7" stroke="#ff0" fill="none"/>
<text x="416.6" y="139.75" font-size="8" fill="#ff0" stroke="#ff0" stroke-width="0.6" font-weight="bold" textLength="6.5" lengthAdjust="spacingAndGlyphs" text-anchor="middle" class="ser">19</text>
<text x="165" y="138.3" font-size="10" fill="#ff0" stroke="#ff0" stroke-width="0.6" font-weight="bold" textLength="30" lengthAdjust="spacingAndGlyphs" >整体厨柜</text>
<text x="169.5" y="181.2" font-size="10" fill="#ff0" stroke="#ff0" stroke-width="0.6" font-weight="bold" textLength="22.5" lengthAdjust="spacingAndGlyphs" >中岛柜</text>
<text x="430.7" y="99" font-size="10" fill="#ff0" stroke="#ff0" stroke-width="0.6" font-weight="bold" textLength="30.3" lengthAdjust="spacingAndGlyphs" >门展示区</text>
<text x="370.5" y="229.6" font-size="10" fill="#ff0" stroke="#ff0" stroke-width="0.6" font-weight="bold" textLength="7.5" lengthAdjust="spacingAndGlyphs" >柱</text>
<text x="367" y="281.6" font-size="10" fill="#ff0" stroke="#ff0" stroke-width="0.6" font-weight="bold" textLength="14" lengthAdjust="spacingAndGlyphs" >窗口</text>
<text x="531.5" y="226" font-size="10" fill="#ff0" stroke="#ff0" stroke-width="0.6" font-weight="bold" textLength="14.5" lengthAdjust="spacingAndGlyphs" >书柜</text>
<text x="507" y="264" font-size="10" fill="#ff0" stroke="#ff0" stroke-width="0.6" font-weight="bold" textLength="30.5" lengthAdjust="spacingAndGlyphs" >圆桌摆设</text>
<text x="375" y="308" font-size="10" fill="#ff0" stroke="#ff0" stroke-width="0.6" font-weight="bold" textLength="23.8" lengthAdjust="spacingAndGlyphs" >样板间</text>
<text x="180" y="389.2" font-size="10" fill="#ff0" stroke="#ff0" stroke-width="0.6" font-weight="bold" textLength="22" lengthAdjust="spacingAndGlyphs" >中岛毯</text>
<text x="183" y="425.5" font-size="10" fill="#ff0" stroke="#ff0" stroke-width="0.6" font-weight="bold" textLength="31" lengthAdjust="spacingAndGlyphs" >整体衣柜</text>
<text x="433.8" y="379" font-size="10" fill="#ff0" stroke="#ff0" stroke-width="0.6" font-weight="bold" textLength="6.8" lengthAdjust="spacingAndGlyphs" >门</text>
<text x="479.8" y="379" font-size="10" fill="#ff0" stroke="#ff0" stroke-width="0.6" font-weight="bold" textLength="22.2" lengthAdjust="spacingAndGlyphs" >高墙板</text>
<text x="542.6" y="377.8" font-size="10" fill="#ff0" stroke="#ff0" stroke-width="0.6" font-weight="bold" textLength="14.2" lengthAdjust="spacingAndGlyphs" >书柜</text>
<text x="555" y="332" font-size="10" fill="#ff0" stroke="#ff0" stroke-width="0.6" font-weight="bold" textLength="15" lengthAdjust="spacingAndGlyphs" >壁炉</text>
<text x="555" y="355.4" font-size="10" fill="#ff0" stroke="#ff0" stroke-width="0.6" font-weight="bold" textLength="15" lengthAdjust="spacingAndGlyphs" >墙板</text>
<text x="395.8" y="441" font-size="10" fill="#ff0" stroke="#ff0" stroke-width="0.6" font-weight="bold" textLength="6.8" lengthAdjust="spacingAndGlyphs" >门</text>
<text x="482.2" y="442.5" font-size="10" fill="#ff0" stroke="#ff0" stroke-width="0.6" font-weight="bold" textLength="40.2" lengthAdjust="spacingAndGlyphs" >玻璃板上面</text>
<text x="522.8" y="442.6" font-size="8.5" fill="#ff0" stroke="#ff0" stroke-width="0.6" font-weight="bold" textLength="13.3" lengthAdjust="spacingAndGlyphs" class="mix">LOGO</text>
<text x="440" y="468.3" font-size="10" fill="#ff0" stroke="#ff0" stroke-width="0.6" font-weight="bold" textLength="38" lengthAdjust="spacingAndGlyphs" >橱窗陈列区</text>
<text x="671.3" y="105.9" font-size="11" fill="#fff" stroke="#fff" stroke-width="0.6" font-weight="bold" textLength="19.7" lengthAdjust="spacingAndGlyphs" >客户:</text>
<text x="671.3" y="138.4" font-size="11" fill="#fff" stroke="#fff" stroke-width="0.6" font-weight="bold" textLength="19.7" lengthAdjust="spacingAndGlyphs" >项目:</text>
<text x="671.3" y="171" font-size="11" fill="#fff" stroke="#fff" stroke-width="0.6" font-weight="bold" textLength="28.7" lengthAdjust="spacingAndGlyphs" >流水号:</text>
<text x="671.3" y="204.4" font-size="11" fill="#fff" stroke="#fff" stroke-width="0.6" font-weight="bold" textLength="19.7" lengthAdjust="spacingAndGlyphs" >制图:</text>
<text x="699" y="204.4" font-size="11" fill="#ff0" stroke="#ff0" stroke-width="0.6" font-weight="bold" textLength="38.7" lengthAdjust="spacingAndGlyphs" class="mix">HT11-梁静</text>
<text x="671.3" y="237.4" font-size="11" fill="#fff" stroke="#fff" stroke-width="0.6" font-weight="bold" textLength="19.7" lengthAdjust="spacingAndGlyphs" >审核:</text>
<text x="671.3" y="269.6" font-size="11" fill="#fff" stroke="#fff" stroke-width="0.6" font-weight="bold" textLength="19.7" lengthAdjust="spacingAndGlyphs" >比例:</text>
<text x="701" y="269.6" font-size="12" fill="#ff0" stroke="#ff0" stroke-width="0.6" font-weight="bold" textLength="26.5" lengthAdjust="spacingAndGlyphs" class="mix">1:1/A4</text>
<text x="671.3" y="304" font-size="11" fill="#fff" stroke="#fff" stroke-width="0.6" font-weight="bold" textLength="19.7" lengthAdjust="spacingAndGlyphs" >日期:</text>
<text x="671.3" y="336.4" font-size="11" fill="#fff" stroke="#fff" stroke-width="0.6" font-weight="bold" textLength="19.7" lengthAdjust="spacingAndGlyphs" >页码:</text>
<text x="701" y="336.4" font-size="12" fill="#ff0" stroke="#ff0" stroke-width="0.6" font-weight="bold" textLength="16.5" lengthAdjust="spacingAndGlyphs" class="mix">P-01</text>
<text x="671.3" y="363.8" font-size="11" fill="#fff" stroke="#fff" stroke-width="0.6" font-weight="bold" textLength="19.7" lengthAdjust="spacingAndGlyphs" >注意:</text>
<text x="691.6" y="375.9" font-size="10.5" fill="#fff" stroke="#fff" stroke-width="0.6" font-weight="bold" textLength="51.4" lengthAdjust="spacingAndGlyphs" >实木产品具有</text>
<text x="674" y="390.9" font-size="10.5" fill="#fff" stroke="#fff" stroke-width="0.6" font-weight="bold" textLength="72.8" lengthAdjust="spacingAndGlyphs" >一定的整体性,请注</text>
<text x="674" y="404.8" font-size="10.5" fill="#fff" stroke="#fff" stroke-width="0.6" font-weight="bold" textLength="72.8" lengthAdjust="spacingAndGlyphs" >意产品的外计尺寸,</text>
<text x="674" y="419.4" font-size="10.5" fill="#fff" stroke="#fff" stroke-width="0.6" font-weight="bold" textLength="72.8" lengthAdjust="spacingAndGlyphs" >能否进入客户住所,</text>
<text x="674" y="434.6" font-size="10.5" fill="#fff" stroke="#fff" stroke-width="0.6" font-weight="bold" textLength="69" lengthAdjust="spacingAndGlyphs" >我们将全方位为您</text>
<text x="674" y="449.2" font-size="10.5" fill="#fff" stroke="#fff" stroke-width="0.6" font-weight="bold" textLength="38" lengthAdjust="spacingAndGlyphs" >设计方案。</text>
<g fill="none" stroke-width="1">
<path d="M706.5 26.5 L721.4 22.5 L735.8 26.5 L733.8 28 L733.8 43.8 L721.4 52.4 L708.4 43.8 L708.4 28 Z" stroke="#fff"/>
<path d="M707.3 27 L721.4 23.3 L735 27 L733 28.6 L733 43.3 L721.4 51.4 L709.2 43.3 L709.2 28.6 Z" stroke="#f00"/>
<path d="M711.5 34.5 L711.5 42.7 L721.4 49.4 L731 42.7 L731 34.5 Z" stroke="#fff"/>
<path d="M713.5 34.5 L713.5 41.6 L720.5 46.3 M729 34.5 L729 41.6 L722.5 46.3 M720.5 34.5 L720.5 48 M722.5 34.5 L722.5 48" stroke="#fff"/>
<path d="M712.5 31.5 L712.5 28.5 L714.5 28.5 L714.5 31 M716.5 31.5 L716.5 27.5 L718 27.5 L718 30.5 M720.5 32 L720.5 25.5 L722 25.5 L722 29 L724 31.5 M724.5 30.5 L724.5 27.5 L726.5 27.5 L726.5 31 M728.5 31.5 L728.5 28.5 L730.5 28.5 L730.5 31.5 M713 32.5 L720 30.5 L723 30.5 L730 32.5" stroke="#fff"/>
</g>
<g filter="url(#nf)"><text x="675.5" y="71.3" font-size="15.2" font-style="italic" font-weight="bold" fill="#000" stroke="#fff" stroke-width="1" textLength="44" lengthAdjust="spacingAndGlyphs">WILEY</text>
<text x="724" y="70.8" font-size="12.5" font-style="italic" font-weight="900" fill="#fff" stroke="#fff" stroke-width="0.6" textLength="41" lengthAdjust="spacingAndGlyphs">威盛邦</text></g>
<circle cx="686" cy="529" r="16.5" stroke="#0f0" fill="none"/>
<path d="M669.5 528.5 L778.5 528.5" stroke="#0f0" stroke-width="1" fill="none" />
<path d="M702.5 531.5 L778.5 531.5" stroke="#0f0" stroke-width="1" fill="none" />
<text x="687" y="526.5" font-size="14" fill="#0f0" stroke="#0f0" stroke-width="0.6" font-weight="normal" textLength="5.5" lengthAdjust="spacingAndGlyphs" text-anchor="middle" class="ser">P</text>
<text x="686" y="544" font-size="16" fill="#0f0" stroke="#0f0" stroke-width="0.6" font-weight="normal" textLength="11" lengthAdjust="spacingAndGlyphs" text-anchor="middle" class="ser">A4</text>
<text x="716.7" y="524.8" font-size="15" fill="#0f0" stroke="#0f0" stroke-width="0.6" font-weight="bold" textLength="34" lengthAdjust="spacingAndGlyphs" class="ser">平面图</text>
<text x="708.4" y="547.3" font-size="15" fill="#0f0" stroke="#0f0" stroke-width="0.6" font-weight="bold" textLength="64" lengthAdjust="spacingAndGlyphs" class="mono">Scale: 1:45</text>
</g>
</svg>
</body></html>
